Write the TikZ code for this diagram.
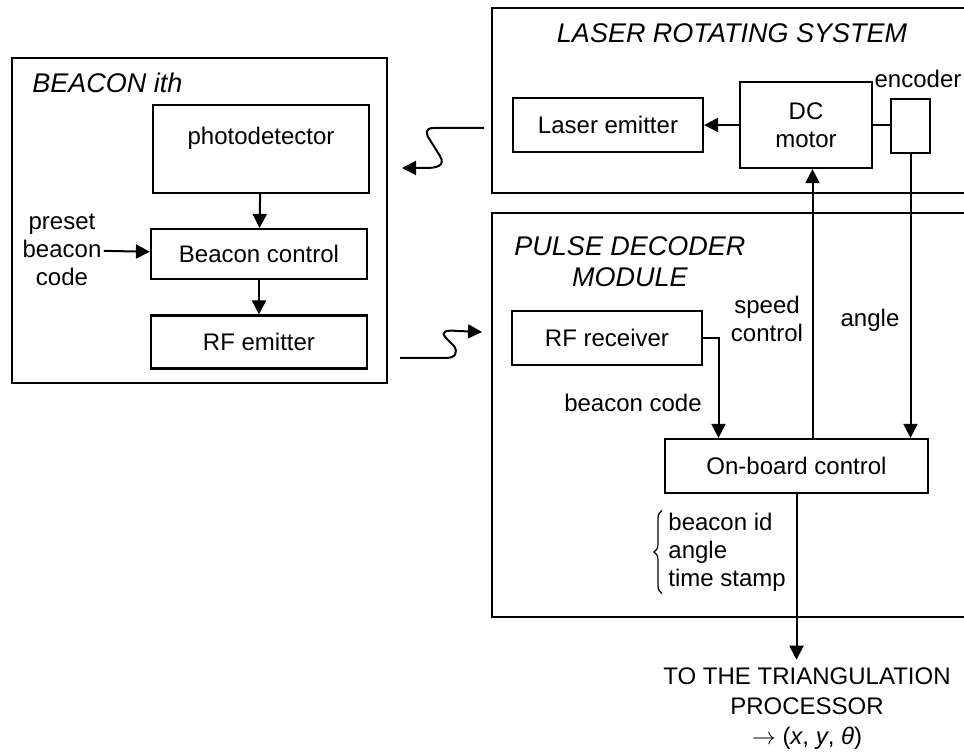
\documentclass[tikz,border=0pt]{standalone}
\usepackage{fontspec}
\setmainfont{Liberation Sans}
\usetikzlibrary{arrows.meta,decorations.pathreplacing}

\begin{document}
\begin{tikzpicture}[x=0.5pt,y=-0.5pt,
    every node/.style={font=\fontsize{12}{14}\selectfont,inner sep=1pt},
    box/.style={draw,line width=1.1pt,inner sep=0pt,align=center},
    ttl/.style={font=\fontsize{13.5}{15.5}\selectfont\itshape,align=center},
    outer/.style={line width=1.4pt},
    wire/.style={line width=1pt},
    arr/.style={line width=1pt,-{Triangle[length=7pt,width=7pt]}}]
  \useasboundingbox (0,0) rectangle (964,753);
  % beacon side
  \node[draw,outer,minimum width=187.5pt,minimum height=162.5pt] (beacon) at (199.5,220.5) {};
  \node[ttl,anchor=west] (btitle) at (30,83) {BEACON ith};
  \node[box,minimum width=108pt,minimum height=44pt,text height=9pt,text depth=13pt] (photo) at (261,149) {photodetector};
  \node[box,minimum width=108pt,minimum height=25pt] (bctl) at (259,254) {Beacon control};
  \node[box,minimum width=108pt,minimum height=26.5pt] (rfem) at (259,342) {RF emitter};
  \node[align=center] (preset) at (62,250) {preset\\beacon\\code};
  \draw[arr] (photo) -- (bctl);
  \draw[arr] (bctl) -- (rfem);
  \draw[arr] (preset) -- (bctl);
  % laser rotating system
  \draw[outer] (964,8) -| (492,193) -- (964,193);
  \node[ttl] (ltitle) at (732,33) {LASER ROTATING SYSTEM};
  \node[box,minimum width=95pt,minimum height=27pt] (lem) at (608,125) {Laser emitter};
  \node[box,minimum width=66pt,minimum height=43pt] (dcm) at (806,125) {DC\\motor};
  \node[box,minimum width=19.5pt,minimum height=27pt] (enc) at (910.5,126) {};
  \node (enclbl) at (918,79) {encoder};
  \draw[arr] (dcm) -- (lem);
  \draw[wire] (dcm.east) -- (dcm.east -| enc.west);
  % pulse decoder module
  \draw[outer] (964,213) -| (492,617) -- (964,617);
  \node[ttl] (ptitle) at (630,262) {PULSE DECODER\\MODULE};
  \node[box,minimum width=95pt,minimum height=27pt] (rfr) at (607,338) {RF receiver};
  \node[box,minimum width=131.5pt,minimum height=27pt] (onb) at (796.5,466) {On-board control};
  \node[align=center] (spd) at (767,319) {speed\\control};
  \node (ang) at (870,320) {angle};
  \node (bcode) at (633,403) {beacon code};
  \draw[arr] (rfr.east) -| ([xshift=-39pt]onb.north);
  \draw[arr] ([xshift=8pt]onb.north) -- ([xshift=8pt]onb.north |- dcm.south);
  \draw[arr] (enc.south) -- (enc.south |- onb.north);
  \node[align=left,anchor=west] (data) at (666,552) {beacon id\\angle\\time stamp};
  \draw[line width=0.6pt,decorate,decoration={brace,amplitude=4pt}]
    ([xshift=-2pt]data.south west) -- ([xshift=-2pt]data.north west);
  % output
  \node[align=center,font=\fontsize{12}{15}\selectfont] (proc) at (807,709)
    {TO THE TRIANGULATION\\PROCESSOR\\$\rightarrow$ (\textit{x}, \textit{y}, \textit{θ})};
  \draw[arr,shorten >=3pt] (onb.south) -- (onb.south |- proc.north);
  % wireless links
  \coordinate (lasout) at (484,128);
  \coordinate (photoin) at (402,168);
  \coordinate (rfout) at (400,358);
  \coordinate (rfin) at (482,332);
  \draw[arr] (lasout) -- (434,128) .. controls (424,128) and (426,134) .. (430,140)
    -- (440,156) .. controls (446,166) and (436,168) .. (426,168) -- (photoin);
  \draw[arr] (rfout) -- (446,358) .. controls (456,358) and (458,352) .. (454,346)
    -- (446,338) .. controls (440,331) and (446,330) .. (458,331) -- (rfin);
\end{tikzpicture}
\end{document}
